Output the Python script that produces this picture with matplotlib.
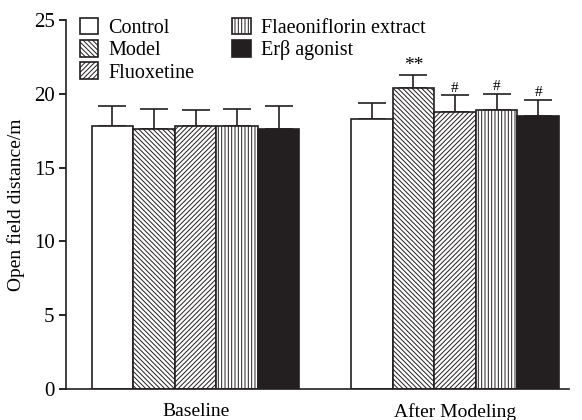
import numpy as np
import matplotlib
matplotlib.use('Agg')
import matplotlib.pyplot as plt

plt.rcParams['font.family'] = ['Liberation Serif', 'DejaVu Serif']
plt.rcParams['hatch.linewidth'] = 0.7

# data
groups = ['Baseline', 'After Modeling']
treatments = ['Control', 'Model', 'Fluoxetine', 'Flaeoniflorin extract', 'Erβ agonist']
means = {
    'Control': [17.8, 18.3],
    'Model': [17.6, 20.4],
    'Fluoxetine': [17.8, 18.8],
    'Flaeoniflorin extract': [17.8, 18.9],
    'Erβ agonist': [17.6, 18.5],
}
errors = {
    'Control': [1.4, 1.1],
    'Model': [1.4, 0.9],
    'Fluoxetine': [1.1, 1.1],
    'Flaeoniflorin extract': [1.2, 1.1],
    'Erβ agonist': [1.6, 1.1],
}
marks = {
    'Model': ['', '**'],
    'Fluoxetine': ['', '#'],
    'Flaeoniflorin extract': ['', '#'],
    'Erβ agonist': ['', '#'],
}

colors = ['white', 'white', 'white', 'white', '#231f20']
hatches = ['', '\\\\\\\\\\\\\\', '///////', '|||||', '']

fig = plt.figure(figsize=(5.82, 4.2), dpi=100)
ax = fig.add_axes([0.113, 0.074, 0.865, 0.878])

x = np.arange(len(groups))
w = 0.16
for i, t in enumerate(treatments):
    pos = x + (i - 2) * w
    ax.bar(pos, means[t], w, color=colors[i], edgecolor='#231f20',
           hatch=hatches[i], linewidth=1.2, label=t, zorder=2)
    ax.errorbar(pos, means[t], yerr=[[0, 0], errors[t]], fmt='none',
                ecolor='#231f20', elinewidth=1.2, capsize=10, capthick=1.2, zorder=1)
    if t in marks:
        for p, m, e, s in zip(pos, means[t], errors[t], marks[t]):
            if s:
                ax.text(p, m + e + 0.05, s, ha='center', va='bottom',
                        fontsize=14 if s == '**' else 11)

ax.set_xlim(-0.5, 1.44)
ax.set_ylim(0, 25)
ax.set_yticks([0, 5, 10, 15, 20, 25])
ax.set_xticks(x)
ax.set_xticklabels(groups, fontsize=14)
ax.tick_params(axis='x', length=0, pad=10)
ax.tick_params(axis='y', labelsize=15, direction='out', length=5, width=1.2, pad=3)
ax.set_ylabel('Open field distance/m', fontsize=14, labelpad=6)
for s in ['top', 'right']:
    ax.spines[s].set_visible(False)
for s in ['left', 'bottom']:
    ax.spines[s].set_linewidth(1.2)
    ax.spines[s].set_color('#231f20')

ax.legend(ncol=2, loc='upper left', bbox_to_anchor=(0.0, 1.045), frameon=False,
          fontsize=14.5, handlelength=0.9, handleheight=0.9, handletextpad=0.5,
          labelspacing=0.1, columnspacing=1.9, borderaxespad=0.3)

fig.savefig('out.png', dpi=100)
